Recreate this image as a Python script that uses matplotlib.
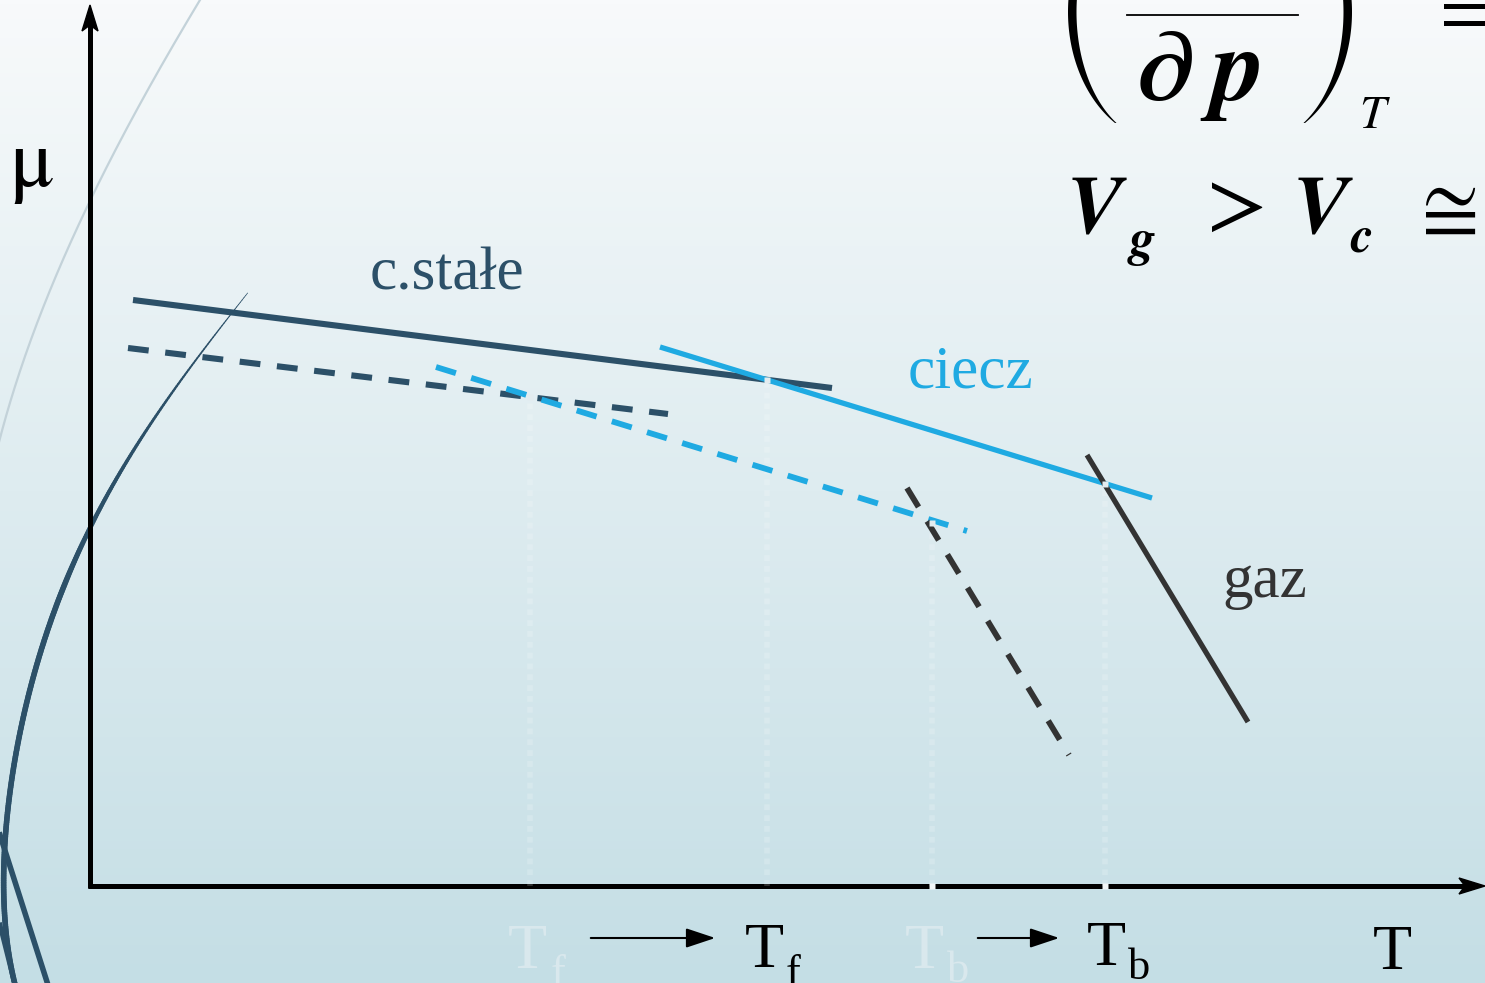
import numpy as np
import matplotlib
matplotlib.use("Agg")
import matplotlib.pyplot as plt
from matplotlib.collections import LineCollection
from matplotlib.patches import Polygon, FancyArrowPatch

W, H, DPI = 1485, 983, 100
plt.rcParams["lines.scale_dashes"] = False
plt.rcParams["mathtext.fontset"] = "stix"

# ---- schematic data (T to the right, mu upward; origin at the axes corner) ----
solid_T = [43, 742]
solid_mu = [586, 498]
solid_dash_T = [38, 578]
solid_dash_mu = [538, 472]
liquid_T = [570, 1062]
liquid_mu = [539, 388]
liquid_dash_T = [346, 877]
liquid_dash_mu = [519, 355]
gas_T = [997, 1158]
gas_mu = [431, 164]
gas_dash_T = [817, 979]
gas_dash_mu = [398, 131]
cross_T = [440, 677, 842, 1015]
cross_mu = [489, 506, 363, 402]

labels = {"solid": "c.stałe", "liquid": "ciecz", "gas": "gaz"}

C_SOLID = "#2c5068"
C_LIQ = "#1faae2"
C_GAS = "#333333"

OX, OY = 90, 886  # pixel position of the origin

fig = plt.figure(figsize=(W / DPI, H / DPI), dpi=DPI)

# background / decoration axes in pixel coordinates
bg = fig.add_axes([0, 0, 1, 1])
bg.set_xlim(0, W)
bg.set_ylim(H, 0)
bg.axis("off")
top = np.array([248, 250, 251]) / 255
bot = np.array([196, 222, 229]) / 255
t = np.linspace(0, 1, 256)[:, None, None]
grad = top * (1 - t) + bot * t
grad = np.repeat(grad, 2, axis=1)
bg.imshow(grad, extent=[0, W, H, 0], aspect="auto", zorder=0)

# decorative arcs
yy = np.array([0, 200, 280, 400, 440])
xx = np.array([200, 90, 55, 10, 0])
c = np.polyfit(yy, xx, 3)
ys = np.linspace(-10, 450, 200)
bg.plot(np.polyval(c, ys), ys, color="#c3d2d9", lw=1.6, zorder=1)

yy2 = np.array([293, 357, 433, 530, 600, 683, 750, 833, 880, 940, 983])
xx2 = np.array([247, 200, 143, 88, 60, 33, 15, 5, 4, 8, 14])
c2 = np.polyfit(yy2, xx2, 5)
ys2 = np.linspace(293, 990, 300)
xs2 = np.polyval(c2, ys2)
pts = np.column_stack([xs2, ys2]).reshape(-1, 1, 2)
segs = np.concatenate([pts[:-1], pts[1:]], axis=1)
widths = np.clip(0.5 + (ys2[:-1] - 293) / 300 * 3.6, 0.5, 4.0)
bg.add_collection(LineCollection(segs, linewidths=widths, colors=C_SOLID, zorder=1,
                                 capstyle="round"))
bg.plot([0, 48], [835, 985], color=C_SOLID, lw=4.0, zorder=1)
bg.plot([0, 15], [925, 985], color=C_SOLID, lw=3.5, zorder=1)

# data axes
ax = fig.add_axes([0, 0, 1, 1])
ax.set_xlim(-OX, W - OX)
ax.set_ylim(-(H - OY), OY)
ax.axis("off")
ax.patch.set_alpha(0)

# vertical dotted guides
for tx, my in zip(cross_T, cross_mu):
    ax.plot([tx, tx], [0, my], color="white", alpha=0.18, lw=4.0,
            linestyle=(0, (4.2, 3.6)), solid_capstyle="butt", zorder=2)

ax.plot(solid_T, solid_mu, color=C_SOLID, lw=4.4, solid_capstyle="butt", zorder=3)
ax.plot(solid_dash_T, solid_dash_mu, color=C_SOLID, lw=4.4,
        linestyle=(0, (15, 12)), dash_capstyle="butt", zorder=3)
ax.plot(liquid_T, liquid_mu, color=C_LIQ, lw=3.8, solid_capstyle="butt", zorder=3)
ax.plot(liquid_dash_T, liquid_dash_mu, color=C_LIQ, lw=4.2,
        linestyle=(0, (15, 11.5)), dash_capstyle="butt", zorder=3)
ax.plot(gas_T, gas_mu, color=C_GAS, lw=3.8, solid_capstyle="butt", zorder=3)
ax.plot(gas_dash_T, gas_dash_mu, color=C_GAS, lw=4.2,
        linestyle=(0, (16, 12)), dash_capstyle="butt", zorder=3)
ax.plot(cross_T, cross_mu, linestyle="none", marker="s", ms=4, color="#e3ecef",
        mec="none", zorder=4)
ax.plot(cross_T[2:], [0, 0], linestyle="none", marker="s", ms=4, color="#f2f6f7",
        mec="none", zorder=6)

# axes with arrows (pixel coords)
bg.plot([OX, OX], [OY + 2, 24], color="black", lw=3.6, zorder=5, solid_capstyle="butt")
bg.plot([OX - 2, W - 18], [OY, OY], color="black", lw=3.6, zorder=5, solid_capstyle="butt")
bg.add_patch(Polygon([[OX, 5], [OX - 8, 31], [OX, 25], [OX + 8, 31]], closed=True,
                     color="black", zorder=5))
bg.add_patch(Polygon([[W, OY], [W - 26, OY - 8], [W - 20, OY], [W - 26, OY + 8]],
                     closed=True, color="black", zorder=5))

serif = "Liberation Serif"
bg.text(31, 186, "μ", fontsize=60, family="STIXGeneral", ha="center", va="baseline",
        color="black")
bg.text(447, 289, labels["solid"], fontsize=44, family=serif, ha="center",
        va="baseline", color=C_SOLID)
bg.text(970, 387, labels["liquid"], fontsize=44, family=serif, ha="center",
        va="baseline", color=C_LIQ)
bg.text(1265, 597, labels["gas"], fontsize=44, family=serif, ha="center",
        va="baseline", color=C_GAS)
bg.text(1392, 969, "T", fontsize=46, family=serif, ha="center", va="baseline", color="black")

faint = "#d9e8ed"
bg.text(508, 968, "T", fontsize=46, family=serif, ha="left", va="baseline", color=faint)
bg.text(551, 985, "f", fontsize=32, family=serif, ha="left", va="baseline", color=faint)
bg.text(745, 967, "T", fontsize=46, family=serif, ha="left", va="baseline", color="black")
bg.text(786, 985, "f", fontsize=32, family=serif, ha="left", va="baseline", color="black")
bg.text(905, 968, "T", fontsize=46, family=serif, ha="left", va="baseline", color=faint)
bg.text(947, 982, "b", fontsize=32, family=serif, ha="left", va="baseline", color=faint)
bg.text(1087, 965, "T", fontsize=46, family=serif, ha="left", va="baseline", color="black")
bg.text(1128, 979, "b", fontsize=32, family=serif, ha="left", va="baseline", color="black")

for x0, x1 in [(588, 718), (975, 1062)]:
    bg.add_patch(FancyArrowPatch((x0, 938), (x1, 938),
                                 arrowstyle="-|>,head_length=0.9,head_width=0.3",
                                 mutation_scale=20, lw=1.5, color="black", zorder=5))

# formula fragment (top right)
def paren(xl, xr, ycen, half, left=True, thick=7.0):
    phim = np.deg2rad(58)
    a = (xr - xl) / (1 - np.cos(phim))
    b = half / np.sin(phim)
    ph = np.linspace(-phim, phim, 120)
    w = thick * np.cos(ph / phim * np.pi / 2) + 1.5
    if left:
        xo = xl + a * (1 - np.cos(ph))
        xi = xo + w
    else:
        xo = xr - a * (1 - np.cos(ph))
        xi = xo - w
    y = ycen + b * np.sin(ph)
    poly = np.vstack([np.column_stack([xo, y]), np.column_stack([xi, y])[::-1]])
    bg.add_patch(Polygon(poly, closed=True, color="black", zorder=5, lw=0))

paren(1068, 1115, 12, 111, left=True)
paren(1305, 1352, 12, 111, left=False)
bg.plot([1127, 1298], [15, 15], color="black", lw=1.3, zorder=5)
bg.text(1136, 100, "∂", fontsize=72, family="STIXGeneral", style="italic", weight="bold",
        ha="left", va="baseline", zorder=5)
bg.text(1212, 100, "p", fontsize=74, family="STIXGeneral", style="italic", weight="bold",
        ha="left", va="baseline", zorder=5)
bg.text(1359, 128, "T", fontsize=34, family="STIXGeneral", style="italic",
        ha="left", va="baseline", zorder=5)
bg.text(1440, 36, "=", fontsize=60, family="STIXGeneral", ha="left", va="baseline", zorder=5)

bg.text(1066, 233, "V", fontsize=60, family="STIXGeneral", style="italic", weight="bold",
        ha="left", va="baseline", zorder=5)
bg.text(1130, 255, "g", fontsize=37, family="STIXGeneral", style="italic", weight="bold",
        ha="left", va="baseline", zorder=5)
bg.text(1207, 230, ">", fontsize=64, family="STIXGeneral", ha="left", va="baseline", zorder=5)
bg.text(1293, 233, "V", fontsize=60, family="STIXGeneral", style="italic", weight="bold",
        ha="left", va="baseline", zorder=5)
bg.text(1350, 252, "c", fontsize=37, family="STIXGeneral", style="italic", weight="bold",
        ha="left", va="baseline", zorder=5)
bg.text(1422, 232, "≅", fontsize=60, family="STIXGeneral", ha="left", va="baseline", zorder=5)

fig.savefig("out.png", dpi=DPI)
